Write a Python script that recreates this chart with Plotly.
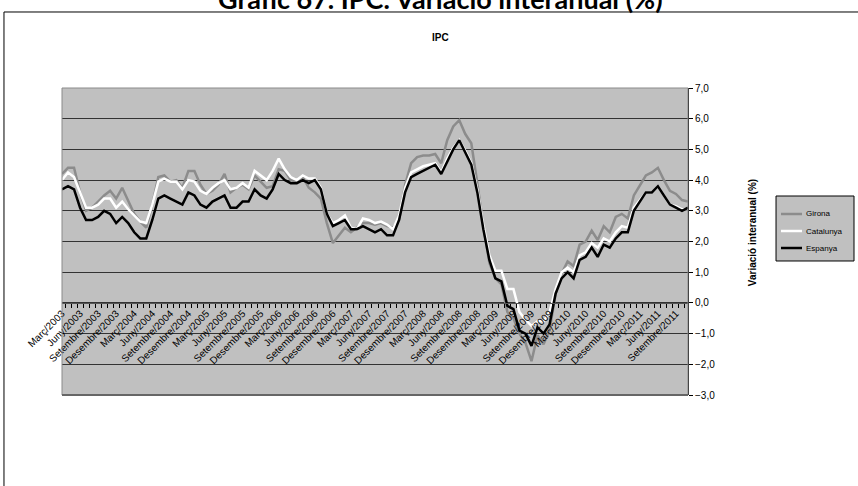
import plotly.graph_objects as go

# category labels: the chart labels every third month starting at Març/2003
month_names = ["Gener", "Febrer", "Març", "Abril", "Maig", "Juny", "Juliol",
               "Agost", "Setembre", "Octubre", "Novembre", "Desembre"]
categories = []
for k in range(105):
    m = (2 + k) % 12
    y = 2003 + (2 + k) // 12
    categories.append(f"{month_names[m]}/{y}")

girona = [
    4.2, 4.4, 4.4, 3.6, 3.0, 3.1, 3.3, 3.5, 3.65, 3.4, 3.75, 3.3,
    2.9, 2.65, 2.45, 3.2, 4.1, 4.15, 3.95, 4.0, 3.75, 4.3, 4.3, 3.85,
    3.55, 3.65, 3.85, 4.2, 3.6, 3.75, 3.85, 3.7, 4.15, 3.95, 3.75, 3.8,
    4.35, 4.3, 4.0, 3.95, 4.1, 3.75, 3.6, 3.4, 2.6, 1.95, 2.2, 2.45,
    2.3, 2.45, 2.6, 2.6, 2.55, 2.6, 2.5, 2.45, 2.7, 3.85, 4.55, 4.75,
    4.8, 4.8, 4.85, 4.55, 5.3, 5.75, 5.95, 5.5, 5.2, 3.9, 2.5, 1.3,
    0.8, 0.6, -0.3, -0.5, -1.0, -1.3, -1.9, -1.05, -1.35, -0.9, 0.3, 0.95,
    1.35, 1.2, 1.9, 2.0, 2.35, 2.05, 2.5, 2.3, 2.8, 2.9, 2.75, 3.5,
    3.85, 4.15, 4.25, 4.4, 4.0, 3.65, 3.55, 3.35, 3.3,
]

catalunya = [
    4.0, 4.25, 4.1, 3.6, 3.1, 3.1, 3.2, 3.4, 3.4, 3.1, 3.3, 3.05,
    2.85, 2.65, 2.6, 3.2, 3.95, 4.05, 3.95, 3.95, 3.7, 4.0, 3.95, 3.65,
    3.55, 3.75, 3.9, 4.0, 3.7, 3.75, 3.9, 3.75, 4.3, 4.15, 4.0, 4.3,
    4.7, 4.35, 4.1, 4.0, 4.15, 4.05, 4.05, 3.75, 2.9, 2.6, 2.7, 2.85,
    2.45, 2.4, 2.75, 2.7, 2.6, 2.65, 2.55, 2.4, 2.85, 3.75, 4.25, 4.35,
    4.45, 4.5, 4.55, 4.25, 4.7, 5.05, 5.3, 4.95, 4.55, 3.7, 2.55, 1.55,
    1.05, 1.05, 0.45, 0.45, -0.3, -0.55, -0.75, -0.6, -0.6, -0.3, 0.45, 1.0,
    1.15, 1.0, 1.55, 1.65, 1.95, 1.8, 2.1, 2.0, 2.3, 2.5, 2.45, 3.1,
    3.35, 3.6, 3.6, 3.8, 3.5, 3.2, 3.15, 3.05, 3.05,
]

espanya = [
    3.7, 3.8, 3.7, 3.1, 2.7, 2.7, 2.8, 3.0, 2.9, 2.6, 2.8, 2.6,
    2.3, 2.1, 2.1, 2.7, 3.4, 3.5, 3.4, 3.3, 3.2, 3.6, 3.5, 3.2,
    3.1, 3.3, 3.4, 3.5, 3.1, 3.1, 3.3, 3.3, 3.7, 3.5, 3.4, 3.7,
    4.2, 4.0, 3.9, 3.9, 4.0, 3.9, 4.0, 3.7, 2.9, 2.5, 2.6, 2.7,
    2.4, 2.4, 2.5, 2.4, 2.3, 2.4, 2.2, 2.2, 2.7, 3.6, 4.1, 4.2,
    4.3, 4.4, 4.5, 4.2, 4.6, 5.0, 5.3, 4.9, 4.5, 3.6, 2.4, 1.4,
    0.8, 0.7, -0.1, -0.2, -0.9, -1.0, -1.4, -0.8, -1.0, -0.7, 0.3, 0.8,
    1.0, 0.8, 1.4, 1.5, 1.8, 1.5, 1.9, 1.8, 2.1, 2.3, 2.3, 3.0,
    3.3, 3.6, 3.6, 3.8, 3.5, 3.2, 3.1, 3.0, 3.1,
]

series_names = ["Girona", "Catalunya", "Espanya"]
series_colors = ["#8c8c8c", "#ffffff", "#000000"]

tick_text = [c if i % 3 == 0 else "" for i, c in enumerate(categories)]

FONT = "Liberation Sans, Arial, sans-serif"

fig = go.Figure()
for name, vals, color in zip(series_names, [girona, catalunya, espanya], series_colors):
    fig.add_trace(go.Scatter(
        x=categories, y=vals, mode="lines", name=name,
        line=dict(color=color, width=2.5),
    ))

fig.update_layout(
    width=858, height=486,
    margin=dict(l=62, r=170, t=88, b=91, autoexpand=False),
    paper_bgcolor="white",
    plot_bgcolor="#c0c0c0",
    separators=", ",
    font=dict(family=FONT, color="black", size=10),
    showlegend=False,
)

fig.update_xaxes(
    type="category",
    anchor="free", position=0.3,
    tickmode="array", tickvals=categories, ticktext=tick_text,
    tickson="boundaries",
    tickangle=-45,
    ticks="outside", ticklen=4, tickcolor="black", tickwidth=1,
    showline=True, linecolor="#555555", linewidth=1,
    showgrid=False, zeroline=False, automargin=False,
    tickfont=dict(size=10, family=FONT),
)
fig.update_yaxes(
    side="right", range=[-3, 7], dtick=1, tickformat=".1f",
    showgrid=True, gridcolor="#333333", gridwidth=1,
    zeroline=False, automargin=False,
    showline=True, linecolor="black", linewidth=1,
    ticks="outside", ticklen=4, tickcolor="black",
    tickfont=dict(size=10, family=FONT),
)

# plot area border and outer chart border
fig.add_shape(type="rect", xref="paper", yref="paper", x0=0, x1=1, y0=0, y1=1,
              line=dict(color="#8a8a8a", width=1), layer="above")
fig.add_shape(type="line", xref="paper", yref="paper", x0=0, x1=1, y0=0, y1=0,
              line=dict(color="#666666", width=2), layer="above")
fig.add_shape(type="rect", xref="paper", yref="paper",
              x0=-0.0927, x1=1.5, y0=-0.5, y1=1.2476,
              line=dict(color="black", width=1), layer="below")

# legend box drawn by hand so it fits inside the page like the original
fig.add_shape(type="rect", xref="paper", yref="paper",
              x0=1.1406, x1=1.2652, y0=0.4365, y1=0.6482,
              fillcolor="#c0c0c0", line=dict(color="black", width=1))
for k, (name, color) in enumerate(zip(series_names, series_colors)):
    ly = 0.5896 - k * 0.0554
    fig.add_shape(type="line", xref="paper", yref="paper",
                  x0=1.1486, x1=1.1821, y0=ly, y1=ly,
                  line=dict(color=color, width=2.5))
    fig.add_annotation(text=name, xref="paper", yref="paper", x=1.1853, y=ly,
                       xanchor="left", yanchor="middle", showarrow=False,
                       font=dict(size=8, family=FONT))

fig.add_annotation(text="<b>Gràfic 67. IPC. Variació interanual (%)</b>",
                   xref="paper", yref="paper", x=0.605, y=1.29,
                   xanchor="center", yanchor="middle", showarrow=False,
                   font=dict(size=27, family="Lato, Liberation Sans, sans-serif"))
fig.add_annotation(text="<b>IPC</b>", xref="paper", yref="paper",
                   x=0.605, y=1.166, xanchor="center", yanchor="middle",
                   showarrow=False, font=dict(size=10, family=FONT))
fig.add_annotation(text="<b>Variació interanual (%)</b>", xref="paper", yref="paper",
                   x=1.102, y=0.53, xanchor="center", yanchor="middle",
                   textangle=-90, showarrow=False, font=dict(size=10, family=FONT))

fig.write_html("out.html", config={"displayModeBar": False},
               post_script="document.body.style.margin='0px';")
